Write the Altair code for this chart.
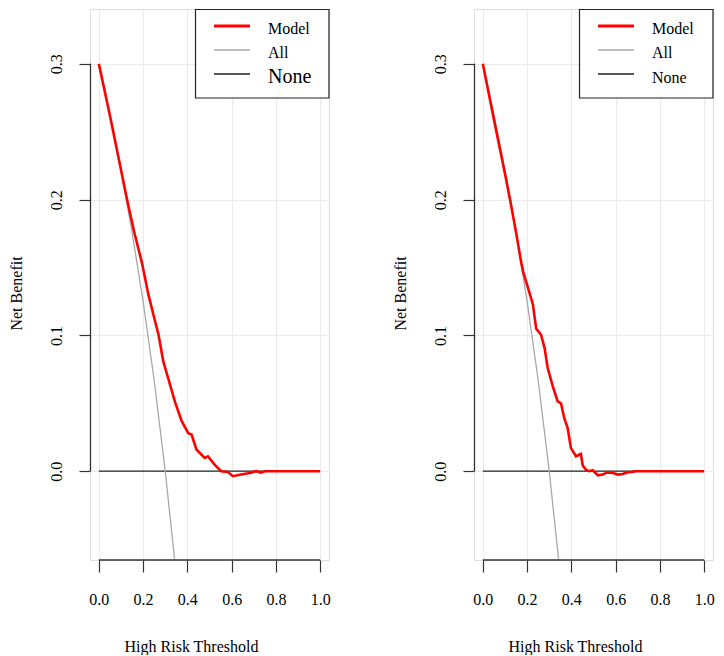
import altair as alt
import pandas as pd

# ---------------- data ----------------
thr_left = [0.0, 0.05, 0.10, 0.13, 0.16, 0.194, 0.224, 0.25, 0.269, 0.291, 0.314,
            0.344, 0.374, 0.404, 0.419, 0.441, 0.478, 0.493, 0.523, 0.553, 0.583,
            0.605, 0.643, 0.688, 0.71, 0.733, 0.75, 1.0]
nb_left = [0.300, 0.262, 0.222, 0.198, 0.176, 0.154, 0.130, 0.113, 0.101, 0.081, 0.068,
           0.051, 0.037, 0.028, 0.027, 0.016, 0.0098, 0.011, 0.0049, 0.0, -0.0005,
           -0.0037, -0.0025, -0.0012, 0.0, -0.001, 0.0, 0.0]

thr_right = [0.0, 0.05, 0.10, 0.123, 0.15, 0.173, 0.182, 0.204, 0.226, 0.241, 0.263,
             0.279, 0.293, 0.316, 0.338, 0.353, 0.368, 0.383, 0.398, 0.421, 0.443,
             0.451, 0.466, 0.481, 0.496, 0.52, 0.541, 0.56, 0.586, 0.61, 0.631,
             0.655, 0.676, 0.69, 1.0]
nb_right = [0.300, 0.259, 0.219, 0.200, 0.176, 0.154, 0.147, 0.135, 0.123, 0.105, 0.1005,
            0.0907, 0.076, 0.0625, 0.0515, 0.050, 0.039, 0.032, 0.017, 0.011, 0.0127,
            0.0044, 0.001, 0.0, 0.0007, -0.003, -0.0025, -0.001, -0.0012, -0.0025, -0.002,
            -0.0008, -0.0005, 0.0, 0.0]

thr_all = [0.0, 0.05, 0.10, 0.15, 0.20, 0.25, 0.30, 0.35, 0.40]
nb_all = [0.300, 0.263, 0.222, 0.176, 0.125, 0.067, 0.0, -0.077, -0.167]

thr_none = [0.0, 1.0]
nb_none = [0.0, 0.0]

x_ticks = [0.0, 0.2, 0.4, 0.6, 0.8, 1.0]
y_ticks = [0.0, 0.1, 0.2, 0.3]
legend_labels = ["Model", "All", "None"]

# ---------------- styling ----------------
W, H = 239, 551
XDOM = [-0.04, 1.04]
YDOM = [-0.0654, 0.3404]
FONT = "Liberation Serif"
DARK = "#333333"
GRID = "#EBEBEB"


def panel(thr, nb, none_font):
    xs = alt.Scale(domain=XDOM, nice=False, zero=False)
    ys = alt.Scale(domain=YDOM, nice=False, zero=False)
    xax = alt.Axis(values=x_ticks, format=".1f", domain=False, grid=True,
                   gridColor=GRID, gridWidth=1.2, tickSize=12, tickColor=DARK,
                   tickWidth=1.2, labelFont=FONT, labelFontSize=16, labelColor="black",
                   labelBaseline="alphabetic", labelPadding=32, labelFlush=False,
                   labelOverlap=False, title="High Risk Threshold", titleFont=FONT,
                   titleFontSize=16, titleFontWeight="normal", titleColor="black",
                   titleX=101, titleY=91, titleAlign="center",
                   titleBaseline="alphabetic")
    yax = alt.Axis(values=y_ticks, format=".1f", domain=False, grid=True,
                   gridColor=GRID, gridWidth=1.2, tickSize=11, tickColor=DARK,
                   tickWidth=1.2, labelFont=FONT, labelFontSize=16, labelColor="black",
                   labelAngle=270, labelAlign="center", labelBaseline="alphabetic",
                   labelPadding=18, labelFlush=False, labelOverlap=False,
                   title="Net Benefit", titleFont=FONT, titleFontSize=16,
                   titleFontWeight="normal", titleColor="black", titleAngle=270,
                   titleX=-68.5, titleY=284, titleAlign="center",
                   titleBaseline="alphabetic")
    X = alt.X("t:Q", scale=xs, axis=xax)
    Y = alt.Y("nb:Q", scale=ys, axis=yax)

    model = pd.DataFrame({"t": thr, "nb": nb})
    alld = pd.DataFrame({"t": thr_all, "nb": nb_all})
    noned = pd.DataFrame({"t": thr_none, "nb": nb_none})
    yline = pd.DataFrame({"nb": [y_ticks[0]], "nb2": [y_ticks[-1]]})
    xline = pd.DataFrame({"t": [x_ticks[0]], "t2": [x_ticks[-1]]})
    one = pd.DataFrame({"k": [0]})

    layers = []
    layers.append(alt.Chart(noned).mark_line(color="#222222", strokeWidth=1.3).encode(x=X, y=Y))
    layers.append(alt.Chart(alld).mark_line(color="#A8A8A8", strokeWidth=1.3, clip=True).encode(x=X, y=Y))
    layers.append(alt.Chart(model).mark_line(color="#FF0000", strokeWidth=2.6).encode(x=X, y=Y))
    # axis lines (R style: from first to last tick)
    layers.append(alt.Chart(yline).mark_rule(color=DARK, strokeWidth=1.3).encode(
        x=alt.value(0.5), y=Y, y2="nb2:Q"))
    layers.append(alt.Chart(xline).mark_rule(color=DARK, strokeWidth=1.3).encode(
        x=X, x2="t2:Q", y=alt.value(H)))

    # legend box
    layers.append(alt.Chart(one).mark_rect(fill="white", stroke="#222222", strokeWidth=1.2).encode(
        x=alt.value(W - 133.5), x2=alt.value(W), y=alt.value(0.5), y2=alt.value(89)))
    samples = [("#FF0000", 2.8), ("#A8A8A8", 1.3), ("#222222", 1.3)]
    rows = [17, 41, 65]
    bases = [25, 49, 74]
    sizes = [16, 16, none_font]
    for lab, (col, sw), ry, by, fs in zip(legend_labels, samples, rows, bases, sizes):
        layers.append(alt.Chart(one).mark_rule(color=col, strokeWidth=sw).encode(
            x=alt.value(W - 115), x2=alt.value(W - 79), y=alt.value(ry)))
        layers.append(alt.Chart(one).mark_text(font=FONT, fontSize=fs, color="black",
                                               align="left", baseline="alphabetic").encode(
            x=alt.value(W - 61), y=alt.value(by), text=alt.value(lab)))

    return alt.layer(*layers).properties(width=W, height=H)


left = panel(thr_left, nb_left, 20)
right = panel(thr_right, nb_right, 16)

chart = alt.hconcat(left, right, spacing=145, bounds="flush").properties(
    padding={"left": 0, "top": 0, "right": 0, "bottom": 0}
).configure_view(stroke=None).configure(background="white")

chart.save("out.html", embed_options={"renderer": "svg", "actions": False})
